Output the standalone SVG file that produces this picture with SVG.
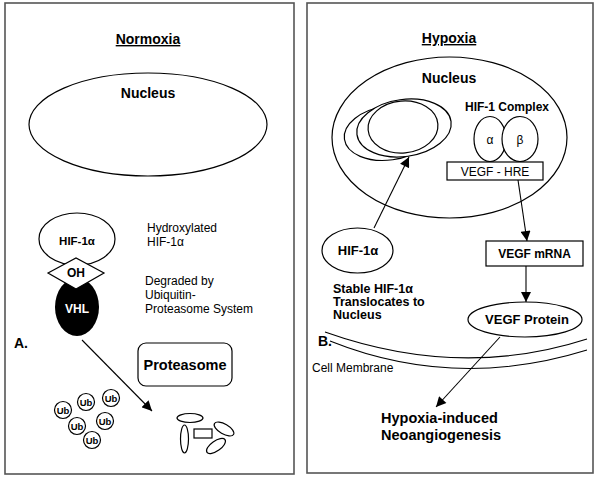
<svg xmlns="http://www.w3.org/2000/svg" width="600" height="479" viewBox="0 0 600 479">
<style>
text{font-family:"Liberation Sans",Arial,sans-serif;fill:#000}
.b{font-weight:bold}
.c{text-anchor:middle}
.s{fill:#fff;stroke:#000;stroke-width:1.2}
.ln{fill:none;stroke:#000;stroke-width:1.1}
.panel{fill:#fff;stroke:#555;stroke-width:1.6}
</style>
<defs>
<marker id="ah" viewBox="0 0 10 10" refX="10" refY="5" markerWidth="11" markerHeight="10" markerUnits="userSpaceOnUse" orient="auto">
<path d="M0,0 L10,5 L0,10 z" fill="#000"/>
</marker>
</defs>
<rect x="0" y="0" width="600" height="479" fill="#fff"/>
<g id="panelA">
<rect class="panel" x="5" y="3" width="289" height="471"/>
<text class="b c" x="148" y="44" font-size="14" text-decoration="underline">Normoxia</text>
<text class="b" x="14" y="348" font-size="14">A.</text>
</g>
<g id="panelB">
<rect class="panel" x="307" y="3" width="286" height="470"/>
<text class="b c" x="449" y="43" font-size="14" text-decoration="underline">Hypoxia</text>
</g>
<g id="nucleusA">
<ellipse class="s" cx="148" cy="124.5" rx="119" ry="51.5"/>
<text class="b c" x="148" y="98" font-size="14">Nucleus</text>
</g>
<g id="hifA">
<ellipse class="s" cx="77" cy="239" rx="38" ry="26"/>
<text class="b c" x="77" y="245" font-size="11.5">HIF-1α</text>
</g>
<g id="vhl">
<ellipse cx="77" cy="307" rx="22" ry="29" fill="#000"/>
<text class="b c" x="77" y="313" font-size="12" style="fill:#fff">VHL</text>
</g>
<g id="oh">
<polygon class="s" points="48,273 76,258 104,273 76,289"/>
<text class="b c" x="76" y="277" font-size="12">OH</text>
</g>
<g id="labelsA">
<text x="147" y="232" font-size="12">Hydroxylated</text>
<text x="147" y="246" font-size="12">HIF-1α</text>
<text x="145" y="285" font-size="12">Degraded by</text>
<text x="145" y="299" font-size="12">Ubiquitin-</text>
<text x="145" y="313" font-size="12">Proteasome System</text>
</g>
<g id="proteasome">
<rect class="s" x="138" y="343" width="94" height="43" rx="8"/>
<text class="b c" x="185" y="370" font-size="14.5">Proteasome</text>
</g>
<g id="ub">
<circle class="s" cx="63" cy="410" r="8.5"/><text class="b c" x="63" y="413.5" font-size="9.5">Ub</text>
<circle class="s" cx="86" cy="402" r="8.5"/><text class="b c" x="86" y="405.5" font-size="9.5">Ub</text>
<circle class="s" cx="111" cy="398" r="8.5"/><text class="b c" x="111" y="401.5" font-size="9.5">Ub</text>
<circle class="s" cx="77" cy="426" r="8.5"/><text class="b c" x="77" y="429.5" font-size="9.5">Ub</text>
<circle class="s" cx="105" cy="421" r="8.5"/><text class="b c" x="105" y="424.5" font-size="9.5">Ub</text>
<circle class="s" cx="92" cy="440" r="8.5"/><text class="b c" x="92" y="443.5" font-size="9.5">Ub</text>
</g>
<g id="fragments">
<ellipse class="s" cx="190" cy="418" rx="13" ry="4.5"/>
<ellipse class="s" cx="184.5" cy="439" rx="4" ry="14"/>
<rect class="s" x="194" y="429" width="18" height="9"/>
<ellipse class="s" cx="224" cy="429" rx="11" ry="5" transform="rotate(30 224 429)"/>
<ellipse class="s" cx="216" cy="446" rx="11" ry="5" transform="rotate(-35 216 446)"/>
</g>
<g id="nucleusB">
<ellipse class="s" cx="449.5" cy="137.5" rx="117.5" ry="80.5"/>
<text class="b c" x="449" y="83" font-size="14">Nucleus</text>
</g>
<g id="chromatin">
<ellipse class="s" cx="389" cy="133" rx="45" ry="27" transform="rotate(-8 389 133)"/>
<ellipse class="s" cx="404" cy="128" rx="47.5" ry="28.5" transform="rotate(-8 404 128)"/>
<ellipse class="s" cx="403" cy="127" rx="35" ry="26" transform="rotate(-5 403 127)"/>
</g>
<g id="hif1complex">
<text class="b c" x="507" y="111" font-size="12">HIF-1 Complex</text>
<ellipse class="s" cx="490" cy="139" rx="16" ry="22.5"/>
<ellipse class="s" cx="520" cy="139" rx="18" ry="22.5"/>
<text class="c" x="490" y="144" font-size="12">α</text>
<text class="c" x="520" y="144" font-size="12">β</text>
</g>
<g id="vegfhre">
<rect class="s" x="447" y="162" width="96" height="18"/>
<text class="c" x="495" y="175.5" font-size="12">VEGF - HRE</text>
</g>
<g id="hifB">
<ellipse class="s" cx="357.5" cy="250.5" rx="35.5" ry="22.5"/>
<text class="b c" x="358" y="255" font-size="13">HIF-1α</text>
</g>
<g id="labelsB">
<text class="b" x="333" y="293" font-size="12.5">Stable HIF-1α</text>
<text class="b" x="333" y="306" font-size="12.5">Translocates to</text>
<text class="b" x="333" y="319" font-size="12.5">Nucleus</text>
<text x="312" y="372" font-size="12">Cell Membrane</text>
</g>
<g id="vegfmrna">
<rect class="s" x="486" y="241" width="97" height="25"/>
<text class="b c" x="534.5" y="258" font-size="12">VEGF mRNA</text>
</g>
<g id="vegfprotein">
<ellipse class="s" cx="525" cy="319.5" rx="57" ry="17.5"/>
<text class="b c" x="527" y="324" font-size="13">VEGF Protein</text>
</g>
<g id="membrane">
<path class="ln" d="M325,332 Q460,380 587,339"/>
<path class="ln" d="M330,341 Q455,391 587,350"/>
<text class="b" x="318" y="346" font-size="14">B.</text>
</g>
<g id="outcome">
<text class="b" x="381" y="423" font-size="14.5">Hypoxia-induced</text>
<text class="b" x="381" y="440" font-size="14.5">Neoangiogenesis</text>
</g>
<g id="connectors">
<line class="ln" x1="82" y1="340" x2="152" y2="411" marker-end="url(#ah)"/>
<line class="ln" x1="374" y1="228" x2="409" y2="157" marker-end="url(#ah)"/>
<line class="ln" x1="518" y1="180" x2="527" y2="241" marker-end="url(#ah)"/>
<line class="ln" x1="526" y1="266" x2="526" y2="302" marker-end="url(#ah)"/>
<line class="ln" x1="500" y1="337" x2="436" y2="407" marker-end="url(#ah)"/>
</g>
</svg>
